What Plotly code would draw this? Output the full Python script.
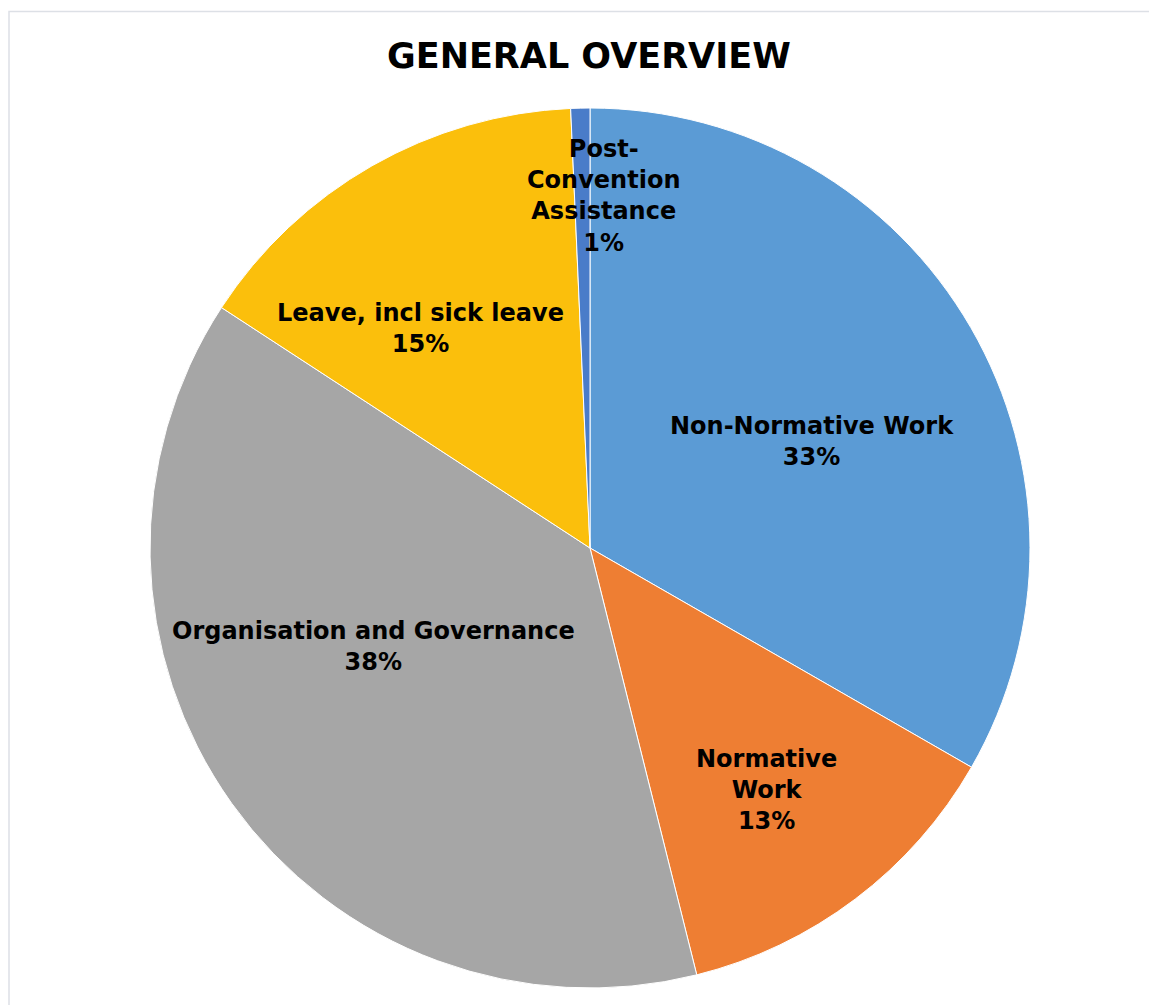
import math
import plotly.graph_objects as go

# ---- data ----
categories = ["Non-Normative Work", "Normative Work", "Organisation and Governance",
              "Leave, incl sick leave", "Post-Convention Assistance"]
display_labels = ["Non-Normative Work", "Normative<br>Work", "Organisation and Governance",
                  "Leave, incl sick leave", "Post-<br>Convention<br>Assistance"]
values = [33.3, 12.8, 38.1, 15.1, 0.7]

# ---- style ----
colors = ["#5b9bd5", "#ee7e33", "#a6a6a6", "#fbbf0c", "#4a7cc9"]
label_radius = [0.56, 0.68, 0.54, 0.63, 0.80]      # fraction of pie radius
label_angle_shift = [4.5, 1.0, 11.0, -8.0, 3.5]     # degrees, clockwise

W, H = 1157, 1005
OFF = 8  # page offset
cx, cy, R = 590 - OFF, 548 - OFF, 440
FONT = "DejaVu Sans"

fig = go.Figure(go.Pie(
    labels=categories, values=values, sort=False, direction="clockwise", rotation=0,
    marker=dict(colors=colors, line=dict(color="white", width=1)),
    textinfo="none", hoverinfo="label+percent", showlegend=False,
    domain=dict(x=[(cx - R) / W, (cx + R) / W], y=[1 - (cy + R) / H, 1 - (cy - R) / H]),
))

total = sum(values)
cum = 0.0
annotations = []
for i, v in enumerate(values):
    mid = (cum + v / 2) / total * 360 + label_angle_shift[i]
    cum += v
    th = math.radians(mid)
    px = cx + R * label_radius[i] * math.sin(th)
    py = cy - R * label_radius[i] * math.cos(th)
    pct = round(v / total * 100)
    annotations.append(dict(
        x=px / W, y=1 - py / H, xref="paper", yref="paper", showarrow=False,
        xanchor="center", yanchor="middle",
        text=f"<b>{display_labels[i]}<br>{pct}%</b>",
        font=dict(family=FONT, size=24, color="black"), align="center",
    ))

annotations.append(dict(
    x=(589 - OFF) / W, y=1 - (56 - OFF) / H, xref="paper", yref="paper", showarrow=False,
    xanchor="center", yanchor="middle",
    text="<b>GENERAL OVERVIEW</b>", font=dict(family=FONT, size=35, color="black"),
))

fig.update_layout(
    width=W, height=H, margin=dict(l=0, r=0, t=0, b=0),
    paper_bgcolor="white", plot_bgcolor="white",
    annotations=annotations,
    shapes=[dict(type="rect", xref="paper", yref="paper",
                 x0=1 / W, x1=1.2, y0=-0.2, y1=1 - 3.5 / H,
                 line=dict(color="#dde0e6", width=1.5), fillcolor="rgba(0,0,0,0)")],
)

fig.write_html("out.html")
